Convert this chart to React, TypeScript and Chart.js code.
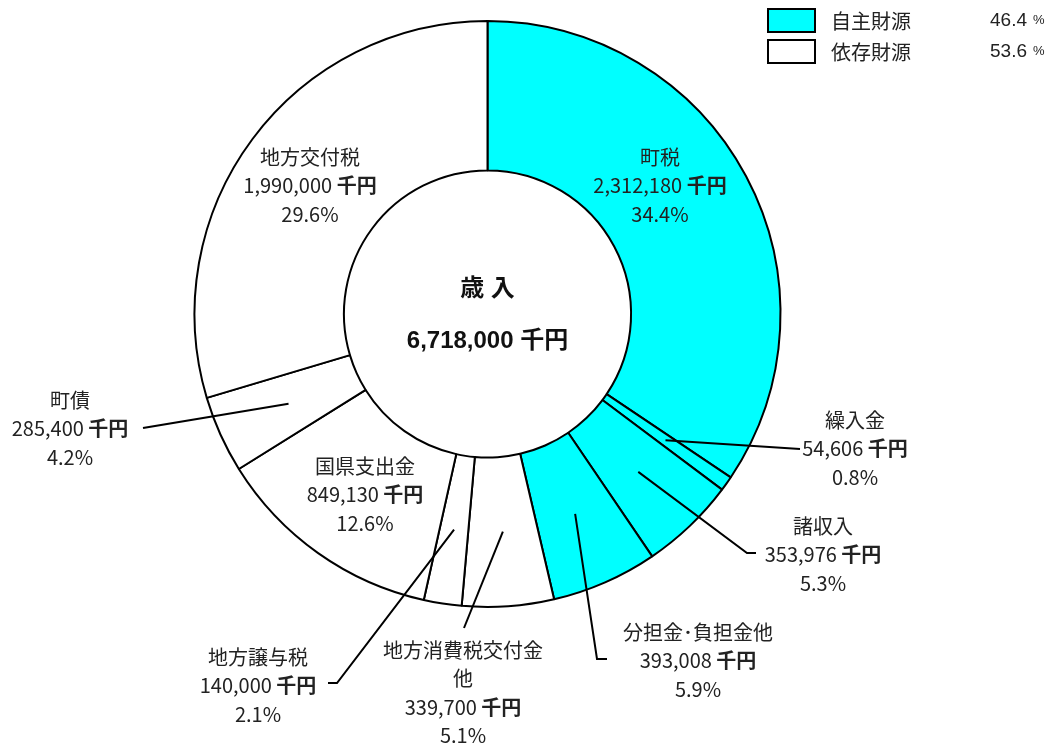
import React, { useEffect, useRef } from "react";
import { Chart, registerables } from "chart.js";

Chart.register(...registerables);

// ---- data ----
const categories = [
  "町税",
  "繰入金",
  "諸収入",
  "分担金･負担金他",
  "地方消費税交付金他",
  "地方譲与税",
  "国県支出金",
  "町債",
  "地方交付税",
];
const categoryLines = [
  ["町税"],
  ["繰入金"],
  ["諸収入"],
  ["分担金･負担金他"],
  ["地方消費税交付金", "他"],
  ["地方譲与税"],
  ["国県支出金"],
  ["町債"],
  ["地方交付税"],
];
const amounts = [2312180, 54606, 353976, 393008, 339700, 140000, 849130, 285400, 1990000];
const percentLabels = ["34.4%", "0.8%", "5.3%", "5.9%", "5.1%", "2.1%", "12.6%", "4.2%", "29.6%"];
const groupIndex = [0, 0, 0, 0, 1, 1, 1, 1, 1];
const legendLabels = ["自主財源", "依存財源"];
const legendPercents = ["46.4", "53.6"];
const centerTitle = "歳 入";
const totalAmount = "6,718,000";
const unitLabel = "千円";

// ---- styles / layout ----
const groupColors = ["#00FFFF", "#FFFFFF"];
const LABEL_FONT = '20px "Noto Sans CJK JP", "Noto Sans", sans-serif';
const UNIT_FONT = 'bold 20px "Noto Sans CJK JP", "Noto Sans", sans-serif';
const LINE_GAP = 28.5;
const labelLayout: { x: number; y: number; leader: number[][] | null }[] = [
  { x: 660, y: 157, leader: null },
  { x: 855, y: 420, leader: [[800, 449]] },
  { x: 823, y: 526, leader: [[747, 553], [756, 553]] },
  { x: 698, y: 632, leader: [[597, 659], [607, 659]] },
  { x: 463, y: 650, leader: [[464, 628]] },
  { x: 258, y: 657, leader: [[337, 683], [328, 683]] },
  { x: 365, y: 466, leader: null },
  { x: 70, y: 400, leader: [[143, 428]] },
  { x: 310, y: 157, leader: null },
];

const fmt = (n: number) => n.toLocaleString("en-US");

function drawAmount(ctx: CanvasRenderingContext2D, num: string, cx: number, y: number) {
  ctx.font = LABEL_FONT;
  const a = num + " ";
  const wa = ctx.measureText(a).width;
  ctx.font = UNIT_FONT;
  const wb = ctx.measureText(unitLabel).width;
  const x0 = cx - (wa + wb) / 2;
  ctx.textAlign = "left";
  ctx.font = LABEL_FONT;
  ctx.fillText(a, x0, y);
  ctx.font = UNIT_FONT;
  ctx.fillText(unitLabel, x0 + wa, y);
  ctx.textAlign = "center";
  ctx.font = LABEL_FONT;
}

const overlayPlugin = {
  id: "overlay",
  afterDraw(chart: any) {
    const ctx: CanvasRenderingContext2D = chart.ctx;
    const meta = chart.getDatasetMeta(0);
    ctx.save();
    // leader lines
    ctx.strokeStyle = "#000";
    ctx.lineWidth = 2;
    meta.data.forEach((arc: any, i: number) => {
      const lay = labelLayout[i];
      if (!lay.leader) return;
      const p = arc.tooltipPosition(false);
      ctx.beginPath();
      ctx.moveTo(p.x, p.y);
      lay.leader.forEach((pt) => ctx.lineTo(pt[0], pt[1]));
      ctx.stroke();
    });
    // labels
    ctx.fillStyle = "#222";
    ctx.textAlign = "center";
    ctx.textBaseline = "middle";
    ctx.font = LABEL_FONT;
    categories.forEach((_, i) => {
      const lay = labelLayout[i];
      const names = categoryLines[i];
      let k = 0;
      names.forEach((t) => {
        ctx.fillText(t, lay.x, lay.y + k * LINE_GAP);
        k++;
      });
      drawAmount(ctx, fmt(amounts[i]), lay.x, lay.y + k * LINE_GAP);
      k++;
      ctx.fillText(percentLabels[i], lay.x, lay.y + k * LINE_GAP);
    });
    // center
    const cx = (chart.chartArea.left + chart.chartArea.right) / 2;
    ctx.fillStyle = "#111";
    ctx.font = 'bold 24px "Liberation Sans", "Noto Sans CJK JP", sans-serif';
    ctx.fillText(centerTitle, cx, 289);
    ctx.fillText(`${totalAmount} ${unitLabel}`, cx, 341);
    // legend
    legendLabels.forEach((lab, i) => {
      const y = 9 + i * 31;
      ctx.fillStyle = groupColors[i];
      ctx.fillRect(768, y, 47, 23);
      ctx.strokeStyle = "#000";
      ctx.lineWidth = 2;
      ctx.strokeRect(768, y, 47, 23);
      ctx.fillStyle = "#222";
      ctx.textAlign = "left";
      ctx.font = '20px "Noto Sans CJK JP", sans-serif';
      ctx.fillText(lab, 831, y + 12);
      ctx.font = '19px "Liberation Sans", Arial, sans-serif';
      ctx.fillText(legendPercents[i], 990, y + 12);
      const w = ctx.measureText(legendPercents[i]).width;
      ctx.font = '13px "Liberation Sans", Arial, sans-serif';
      ctx.fillText("%", 990 + w + 6, y + 11);
      ctx.textAlign = "center";
    });
    ctx.restore();
  },
};

export default function App() {
  const ref = useRef<HTMLCanvasElement>(null);
  useEffect(() => {
    document.body.style.margin = "0";
    if (!ref.current) return;
    const chart = new Chart(ref.current, {
      type: "doughnut",
      data: {
        labels: categories,
        datasets: [
          {
            data: amounts,
            backgroundColor: groupIndex.map((g) => groupColors[g]),
            borderColor: "#000",
            borderWidth: 2,
          },
        ],
      },
      options: {
        responsive: false,
        animation: false,
        cutout: "49%",
        layout: { padding: { left: 193.5, right: 272.5, top: 20, bottom: 139 } },
        plugins: {
          legend: { display: false },
          tooltip: { enabled: false },
        },
      },
      plugins: [overlayPlugin],
    });
    return () => chart.destroy();
  }, []);
  return (
    <div style={{ width: 1054, height: 747, background: "#fff" }}>
      <canvas ref={ref} width={1054} height={747} style={{ display: "block" }} />
    </div>
  );
}
